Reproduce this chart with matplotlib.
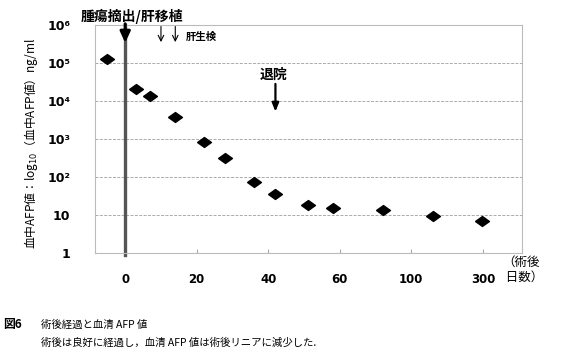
import matplotlib
matplotlib.use('Agg')
import matplotlib.pyplot as plt
import numpy as np

plt.rcParams['font.family'] = ['Noto Sans CJK JP', 'DejaVu Sans']

# days after surgery and serum AFP (ng/ml)
days = [-5, 3, 7, 14, 22, 28, 36, 42, 51, 58, 84, 160, 298]
afp = [130000, 21000, 13500, 3800, 830, 320, 74, 36, 18, 15, 13.5, 9.4, 7]

tick_days = [0, 20, 40, 60, 100, 300]
tick_labels = ['0', '20', '40', '60', '100', '300']
y_ticks = [1, 10, 1e2, 1e3, 1e4, 1e5, 1e6]
y_labels = ['1', '10', '10²', '10³', '10⁴', '10⁵', '10⁶']

biopsy_days = [10, 14]
discharge_day = 42


def fwd(d):
    d = np.asarray(d, dtype=float)
    mid = np.interp(d, tick_days, np.arange(len(tick_days)))
    return np.where(d < 0, d / 20, np.where(d > 300, 5 + (d - 300) / 200, mid))


def inv(p):
    p = np.asarray(p, dtype=float)
    mid = np.interp(p, np.arange(len(tick_days)), tick_days)
    return np.where(p < 0, p * 20, np.where(p > 5, 300 + (p - 5) * 200, mid))


fig = plt.figure(figsize=(5.63, 3.57), dpi=100)
ax = fig.add_axes([0.169, 0.291, 0.758, 0.639])
ax.set_xscale('function', functions=(fwd, inv))
ax.set_yscale('log')
ax.set_xlim(-8.4, 409)
ax.set_ylim(1, 1e6)

for s in ax.spines.values():
    s.set_color('#bbbbbb')
    s.set_linewidth(0.8)
ax.spines['top'].set_linestyle((0, (3, 1)))

for v in y_ticks[1:-1]:
    ax.axhline(v, color='#aaaaaa', lw=0.7, ls=(0, (3, 1.5)), zorder=1)

diamond = [(-1.4, 0), (0, 1), (1.4, 0), (0, -1), (-1.4, 0)]
ax.plot(days, afp, ls='none', marker=diamond, ms=10, color='black', zorder=3)

ax.set_xticks(tick_days)
ax.set_xticklabels(tick_labels, fontsize=8.5, fontweight='bold', family='DejaVu Sans')
ax.tick_params(axis='x', direction='in', length=3, color='#aaaaaa', pad=14)
ax.xaxis.set_minor_locator(matplotlib.ticker.NullLocator())
ax.set_yticks(y_ticks)
ax.set_yticklabels(y_labels, fontsize=9, fontweight='bold', family='DejaVu Sans')
ax.yaxis.set_minor_locator(matplotlib.ticker.NullLocator())
ax.tick_params(axis='y', length=0, pad=18)

# surgery line and arrow
ax.axvline(0, ymin=-0.01, ymax=1, color='#555555', lw=2.4, clip_on=False, zorder=2)
ax.annotate('', xy=(0, 10**5.53), xytext=(0, 10**6.03),
            arrowprops=dict(arrowstyle='-|>,head_width=0.3,head_length=0.65', color='black', lw=2.2,
                            shrinkA=0, shrinkB=0),
            annotation_clip=False)
ax.text(2, 10**6.22, '腫瘍摘出/肝移植', ha='center', va='center', fontsize=10, fontweight='bold')

# biopsy arrows
for d in biopsy_days:
    ax.annotate('', xy=(d, 10**5.55), xytext=(d, 10**5.96),
                arrowprops=dict(arrowstyle='->', color='black', lw=0.8, shrinkA=0, shrinkB=0),
                annotation_clip=False)
ax.text(17, 10**5.68, '肝生検', ha='left', va='center', fontsize=7.5, fontweight='bold')

# discharge
ax.text(discharge_day - 0.5, 10**4.7, '退院', ha='center', va='center', fontsize=10, fontweight='bold')
ax.annotate('', xy=(discharge_day, 10**3.72), xytext=(discharge_day, 10**4.45),
            arrowprops=dict(arrowstyle='-|>,head_width=0.2,head_length=0.5', color='black', lw=1.6,
                            shrinkA=0, shrinkB=0))

fig.text(0.055, 0.597, '血中AFP値：log$_{10}$（血中AFP値）ng/ml', rotation=90,
         ha='center', va='center', fontsize=8.5)
fig.text(0.893, 0.244, '（術後\n 日数）', ha='left', va='center', fontsize=9, linespacing=1.25)

fig.text(0.006, 0.09, '図6', ha='left', va='center', fontsize=8.5, fontweight='bold')
fig.text(0.072, 0.09, '術後経過と血清 AFP 値', ha='left', va='center', fontsize=7.5)
fig.text(0.072, 0.04, '術後は良好に経過し，血清 AFP 値は術後リニアに減少した.', ha='left', va='center', fontsize=7.5)

fig.savefig('out.png', dpi=100)
